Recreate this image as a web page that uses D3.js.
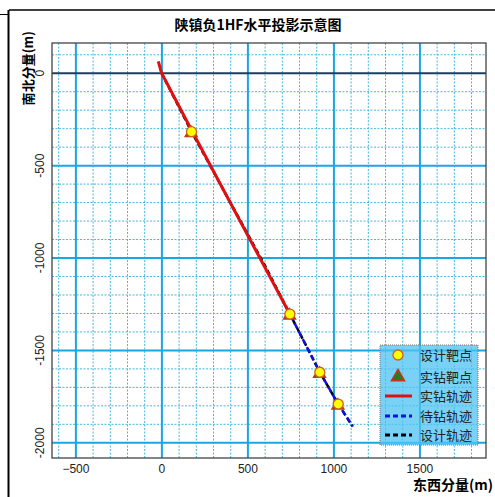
<!DOCTYPE html>
<html>
<head>
<meta charset="utf-8">
<script src="https://cdn.jsdelivr.net/npm/d3@7"></script>
<style>
  body { margin: 0; background: #fff; }
  text { font-family: Arial, "Liberation Sans", "Noto Sans CJK SC", sans-serif; }
  .cjk { font-family: "Noto Sans CJK SC", sans-serif; }
</style>
</head>
<body>
<svg id="plotarea"></svg>
<script>
// values (east = x, north = y, metres)
var designX = [175, 747, 921, 1028];
var designY = [-319, -1306, -1621, -1793];
var drilledTargetX = [173, 745, 919, 1026];
var drilledTargetY = [-327, -1314, -1629, -1801];
var drilledPathX = [-18, 0, 175, 430, 620, 750];
var drilledPathY = [62, 0, -310, -755, -1085, -1312];
var pendingPathX = [750, 921, 1028, 1113];
var pendingPathY = [-1312, -1621, -1793, -1915];
var planPathX = [0, 175, 420, 600, 747, 921, 1028, 1110];
var planPathY = [0, -319, -735, -1040, -1306, -1621, -1793, -1912];
var xTicks = [-500, 0, 500, 1000, 1500];
var yTicks = [0, -500, -1000, -1500, -2000];
var legendItems = ["设计靶点", "实钻靶点", "实钻轨迹", "待钻轨迹", "设计轨迹"];

function drawChart(){
    var W = 495, H = 497;
    var margin = {top: 43, right: 9, bottom: 39, left: 52};
    var width = W - margin.left - margin.right;
    var height = H - margin.top - margin.bottom;

    var svg = d3.select("#plotarea")
        .attr("width", W)
        .attr("height", H);

    // outer frame bits
    svg.append("line").attr("x1", 9).attr("y1", 10).attr("x2", W).attr("y2", 10)
        .attr("stroke", "#000").attr("stroke-width", 1.5);
    svg.append("line").attr("x1", 8.5).attr("y1", 10).attr("x2", 8.5).attr("y2", H)
        .attr("stroke", "#000").attr("stroke-width", 2);
    svg.append("line").attr("x1", 0).attr("y1", 14.5).attr("x2", 8).attr("y2", 14.5)
        .attr("stroke", "#000").attr("stroke-width", 1);

    var x = d3.scaleLinear().domain([-636, 1887]).range([0, width]);
    var y = d3.scaleLinear().domain([161, -2085]).range([0, height]);

    var g = svg.append("g")
        .attr("transform", "translate(" + margin.left + "," + margin.top + ")");

    var minorX = d3.range(-600, 1900, 100).filter(function(v){ return v % 500 != 0; });
    var minorY = d3.range(100, -2100, -100).filter(function(v){ return v % 500 != 0; });
    var majorX = d3.range(-500, 1900, 500);
    var majorY = d3.range(0, -2100, -500);

    g.append("g")
        .attr("transform", "translate(0," + height + ")")
        .call(d3.axisBottom(x).tickValues(minorX).tickSize(-height).tickFormat(""))
        .call(function(a){ a.select(".domain").remove(); })
        .selectAll("line")
        .attr("stroke", "#45b8e0").attr("stroke-dasharray", "2,1.5");
    g.append("g")
        .call(d3.axisLeft(y).tickValues(minorY).tickSize(-width).tickFormat(""))
        .call(function(a){ a.select(".domain").remove(); })
        .selectAll("line")
        .attr("stroke", "#45b8e0").attr("stroke-dasharray", "2,1.5");

    g.append("g")
        .attr("transform", "translate(0," + height + ")")
        .call(d3.axisBottom(x).tickValues(majorX).tickSize(-height).tickFormat(""))
        .call(function(a){ a.select(".domain").remove(); })
        .selectAll("line")
        .attr("stroke", "#1aa6e0").attr("stroke-width", 2);
    g.append("g")
        .call(d3.axisLeft(y).tickValues(majorY).tickSize(-width).tickFormat(""))
        .call(function(a){ a.select(".domain").remove(); })
        .selectAll("line")
        .attr("stroke", function(d){ return d == 0 ? "#1c3d5c" : "#1aa6e0"; })
        .attr("stroke-width", 2);

    // plot border
    g.append("rect")
        .attr("width", width).attr("height", height)
        .attr("fill", "none").attr("stroke", "#444").attr("stroke-width", 1.3);

    // tick labels
    var xAxis = g.append("g")
        .attr("transform", "translate(0," + height + ")")
        .call(d3.axisBottom(x).tickValues(xTicks).tickSize(0).tickPadding(6).tickFormat(d3.format("d")));
    xAxis.select(".domain").remove();
    xAxis.selectAll("text").attr("font-size", 12).attr("fill", "#222")
        .style("font-family", "Arial, 'Liberation Sans', sans-serif");

    var yAxis = g.append("g")
        .call(d3.axisLeft(y).tickValues(yTicks).tickSize(0).tickFormat(""));
    yAxis.select(".domain").remove();
    yAxis.selectAll(".tick").append("text")
        .attr("transform", "translate(-8,0) rotate(-90)")
        .attr("text-anchor", "middle")
        .attr("font-size", 12)
        .attr("fill", "#222")
        .text(function(d){ return d; });

    var line = d3.line()
        .x(function(d){ return x(d[0]); })
        .y(function(d){ return y(d[1]); });

    g.append("path")
        .datum(d3.zip(planPathX, planPathY))
        .attr("d", line)
        .attr("fill", "none").attr("stroke", "#000")
        .attr("stroke-width", 2.5).attr("stroke-dasharray", "5,3");

    g.append("path")
        .datum(d3.zip(drilledPathX, drilledPathY))
        .attr("d", line)
        .attr("fill", "none").attr("stroke", "#e01010")
        .attr("stroke-width", 3);

    g.append("path")
        .datum(d3.zip(pendingPathX, pendingPathY))
        .attr("d", line)
        .attr("fill", "none").attr("stroke", "#1010e0")
        .attr("stroke-width", 2.5).attr("stroke-dasharray", "6,3");

    var tri = d3.symbol().type(d3.symbolTriangle).size(60);
    g.selectAll(".tri")
        .data(d3.zip(drilledTargetX, drilledTargetY))
        .enter().append("path")
        .attr("class", "tri")
        .attr("d", tri)
        .attr("transform", function(d){ return "translate(" + x(d[0]) + "," + y(d[1]) + ")"; })
        .attr("fill", "#2d7a1e").attr("stroke", "#c8341a").attr("stroke-width", 1.5);

    g.selectAll(".tgt")
        .data(d3.zip(designX, designY))
        .enter().append("circle")
        .attr("class", "tgt")
        .attr("cx", function(d){ return x(d[0]); })
        .attr("cy", function(d){ return y(d[1]); })
        .attr("r", 5)
        .attr("fill", "#ffff00").attr("stroke", "#d2601a").attr("stroke-width", 1.3);

    // legend
    var lg = svg.append("g").attr("transform", "translate(380,345)");
    lg.append("rect")
        .attr("width", 98).attr("height", 100)
        .attr("fill", "#4cc3f2").attr("fill-opacity", 0.75)
        .attr("stroke", "#777").attr("stroke-dasharray", "1,1");
    var rowY = [10, 32, 51, 71, 90];
    legendItems.forEach(function(name, i){
        var cy = rowY[i];
        if (i == 0) {
            lg.append("circle").attr("cx", 18).attr("cy", cy).attr("r", 5)
                .attr("fill", "#ffff00").attr("stroke", "#d2601a").attr("stroke-width", 1.3);
        } else if (i == 1) {
            lg.append("path").attr("d", d3.symbol().type(d3.symbolTriangle).size(75))
                .attr("transform", "translate(18," + cy + ")")
                .attr("fill", "#2d7a1e").attr("stroke", "#c8341a").attr("stroke-width", 1.5);
        } else {
            lg.append("line").attr("x1", 5).attr("x2", 32).attr("y1", cy).attr("y2", cy)
                .attr("stroke", ["#e01010", "#1010e0", "#000"][i - 2])
                .attr("stroke-width", 3)
                .attr("stroke-dasharray", i == 2 ? null : "5,3");
        }
        lg.append("text")
            .attr("class", "cjk")
            .attr("x", 40).attr("y", cy + 5)
            .attr("font-size", 13).attr("fill", "#222")
            .text(name);
    });

    // titles
    svg.append("text")
        .attr("class", "cjk")
        .attr("x", 258).attr("y", 30)
        .attr("text-anchor", "middle")
        .attr("font-size", 14).attr("font-weight", "bold")
        .text("陕镇负1HF水平投影示意图");

    svg.append("text")
        .attr("class", "cjk")
        .attr("transform", "translate(33,31) rotate(-90)")
        .attr("text-anchor", "end")
        .attr("font-size", 13).attr("font-weight", "bold")
        .text("南北分量(m)");

    svg.append("text")
        .attr("class", "cjk")
        .attr("x", 493).attr("y", 490)
        .attr("text-anchor", "end")
        .attr("font-size", 14).attr("font-weight", "bold")
        .text("东西分量(m)");
}

drawChart();
</script>
</body>
</html>
